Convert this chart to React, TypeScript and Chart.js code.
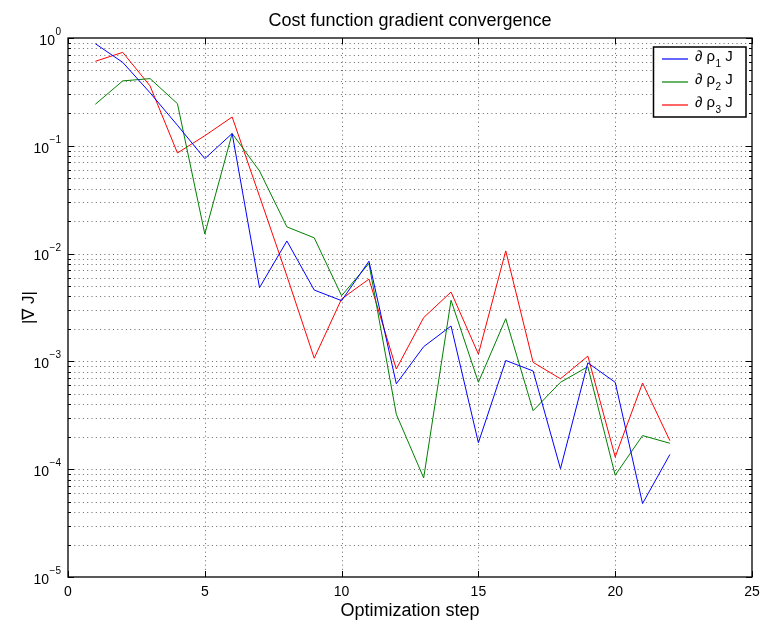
import React, { useEffect, useRef } from "react";
import { Chart, registerables } from "chart.js";

Chart.register(...registerables);

// ---- data ----
const steps = [1, 2, 3, 4, 5, 6, 7, 8, 9, 10, 11, 12, 13, 14, 15, 16, 17, 18, 19, 20, 21, 22];
const rho1 = [0.885, 0.594, 0.31, 0.155, 0.076, 0.13, 0.00483, 0.0131, 0.00459, 0.00366, 0.0085, 0.00062, 0.00137, 0.00213, 0.000176, 0.00102, 0.000815, 0.000101, 0.00097, 0.00064, 0.000048, 0.000137];
const rho2 = [0.243, 0.4, 0.42, 0.246, 0.0152, 0.13, 0.0584, 0.0177, 0.014, 0.00407, 0.0081, 0.000323, 0.000083, 0.00369, 0.00064, 0.00249, 0.000349, 0.00064, 0.000893, 0.000088, 0.000205, 0.000174];
const rho3 = [0.608, 0.736, 0.359, 0.0858, 0.124, 0.185, 0.034, 0.0062, 0.00107, 0.0038, 0.0058, 0.00085, 0.00255, 0.0044, 0.00117, 0.0106, 0.00098, 0.00069, 0.00112, 0.00013, 0.00063, 0.000184];
const seriesSubs = ["1", "2", "3"];
const seriesColors = ["#0000ff", "#008000", "#ff0000"];
const xTicks = [0, 5, 10, 15, 20, 25];
const yExponents = [0, -1, -2, -3, -4, -5];
const titleText = "Cost function gradient convergence";
const xLabel = "Optimization step";
const yLabel = "|\u2207 J|";

const FONT = '"Liberation Sans", Arial, Helvetica, sans-serif';

const decor = {
  id: "decor",
  beforeDatasetsDraw(chart: any) {
    const { ctx, chartArea: a, scales } = chart;
    const x = scales.x;
    const y = scales.y;
    ctx.save();
    ctx.strokeStyle = "rgba(0,0,0,0.6)";
    ctx.lineWidth = 1;
    ctx.setLineDash([1, 3.3]);
    // horizontal grid (log decades + minors)
    for (let e = -5; e <= -1; e++) {
      for (let m = 1; m <= 9; m++) {
        if (e === -5 && m === 1) continue;
        const v = m * Math.pow(10, e);
        const py = Math.round(y.getPixelForValue(v)) + 0.5;
        ctx.beginPath();
        ctx.moveTo(a.left + 2, py);
        ctx.lineTo(a.right, py);
        ctx.stroke();
      }
    }
    // vertical grid
    for (const t of xTicks) {
      if (t === 0 || t === 25) continue;
      const px = Math.round(x.getPixelForValue(t)) + 0.5;
      ctx.beginPath();
      ctx.moveTo(px, a.top + 2);
      ctx.lineTo(px, a.bottom);
      ctx.stroke();
    }
    ctx.restore();
  },
  afterDraw(chart: any) {
    const { ctx, chartArea: a, scales } = chart;
    const x = scales.x;
    const y = scales.y;
    ctx.save();
    ctx.setLineDash([]);
    ctx.strokeStyle = "#000";
    // axes box
    ctx.lineWidth = 1.3;
    ctx.strokeRect(a.left, a.top, a.right - a.left, a.bottom - a.top);
    // ticks
    ctx.lineWidth = 1;
    for (let e = -5; e <= 0; e++) {
      for (let m = 1; m <= 9; m++) {
        if (e === 0 && m > 1) break;
        const v = m * Math.pow(10, e);
        const py = Math.round(y.getPixelForValue(v)) + 0.5;
        const len = m === 1 ? 6 : 3;
        ctx.beginPath();
        ctx.moveTo(a.left, py);
        ctx.lineTo(a.left + len, py);
        ctx.moveTo(a.right, py);
        ctx.lineTo(a.right - len, py);
        ctx.stroke();
      }
    }
    for (const t of xTicks) {
      const px = Math.round(x.getPixelForValue(t)) + 0.5;
      ctx.beginPath();
      ctx.moveTo(px, a.bottom);
      ctx.lineTo(px, a.bottom - 6);
      ctx.moveTo(px, a.top);
      ctx.lineTo(px, a.top + 6);
      ctx.stroke();
    }
    ctx.fillStyle = "#000";
    // y tick labels 10^e
    for (const e of yExponents) {
      const py = y.getPixelForValue(Math.pow(10, e));
      const expStr = e === 0 ? "0" : "\u2212" + String(-e);
      ctx.font = `10px ${FONT}`;
      const w2 = ctx.measureText(expStr).width;
      ctx.font = `14px ${FONT}`;
      const w1 = ctx.measureText("10").width;
      const right = a.left - 7;
      ctx.textAlign = "left";
      ctx.textBaseline = "alphabetic";
      ctx.fillText("10", right - w2 - w1 - 0.5, py + 6.7);
      ctx.font = `10px ${FONT}`;
      ctx.fillText(expStr, right - w2, py - 3);
    }
    // x tick labels
    ctx.font = `14px ${FONT}`;
    ctx.textAlign = "center";
    for (const t of xTicks) {
      ctx.fillText(String(t), x.getPixelForValue(t), 596);
    }
    const cx = (a.left + a.right) / 2;
    // title
    ctx.font = `18px ${FONT}`;
    ctx.fillText(titleText, cx, 26);
    // x label
    ctx.fillText(xLabel, cx, 616);
    // y label
    ctx.save();
    ctx.translate(29, (a.top + a.bottom) / 2);
    ctx.rotate(-Math.PI / 2);
    ctx.font = `17px ${FONT}`;
    ctx.textBaseline = "middle";
    ctx.fillText(yLabel, 0, 0);
    ctx.restore();

    // legend
    const bx = 653.5, by = 47, bw = 92.5, bh = 70;
    ctx.fillStyle = "#fff";
    ctx.fillRect(bx, by, bw, bh);
    ctx.lineWidth = 1.5;
    ctx.strokeStyle = "#000";
    ctx.strokeRect(bx, by, bw, bh);
    for (let i = 0; i < seriesColors.length; i++) {
      const ly = 59 + i * 23.2;
      ctx.strokeStyle = seriesColors[i];
      ctx.lineWidth = 1.2;
      ctx.beginPath();
      ctx.moveTo(662, Math.round(ly));
      ctx.lineTo(688, Math.round(ly));
      ctx.stroke();
      ctx.fillStyle = "#000";
      ctx.textAlign = "left";
      ctx.textBaseline = "alphabetic";
      let tx = 695;
      ctx.font = `15px ${FONT}`;
      const p1 = "\u2202 \u03c1";
      ctx.fillText(p1, tx, ly + 2);
      tx += ctx.measureText(p1).width;
      ctx.font = `10px ${FONT}`;
      ctx.fillText(seriesSubs[i], tx + 0.5, ly + 8);
      tx += ctx.measureText(seriesSubs[i]).width + 0.5;
      ctx.font = `15px ${FONT}`;
      ctx.fillText(" J", tx, ly + 2);
    }
    ctx.restore();
  },
};

export default function App() {
  const ref = useRef<HTMLCanvasElement | null>(null);
  useEffect(() => {
    if (!ref.current) return;
    const series = [rho1, rho2, rho3];
    const chart = new Chart(ref.current, {
      type: "line",
      data: {
        datasets: series.map((s, i) => ({
          label: "\u2202 \u03c1" + seriesSubs[i] + " J",
          data: steps.map((st, j) => ({ x: st, y: s[j] })),
          borderColor: seriesColors[i],
          backgroundColor: seriesColors[i],
          borderWidth: 1,
          pointRadius: 0,
          tension: 0,
          fill: false,
        })),
      },
      options: {
        responsive: false,
        animation: false,
        devicePixelRatio: 1,
        layout: { padding: { left: 68, right: 13, top: 38, bottom: 48 } },
        plugins: {
          legend: { display: false },
          tooltip: { enabled: false },
          title: { display: false },
        },
        scales: {
          x: { type: "linear", min: 0, max: 25, display: false },
          y: { type: "logarithmic", min: 1e-5, max: 1, display: false },
        },
      },
      plugins: [decor],
    });
    return () => chart.destroy();
  }, []);
  return (
    <canvas
      ref={ref}
      width={765}
      height={625}
      style={{ position: "absolute", left: 0, top: 0, width: 765, height: 625 }}
    />
  );
}
